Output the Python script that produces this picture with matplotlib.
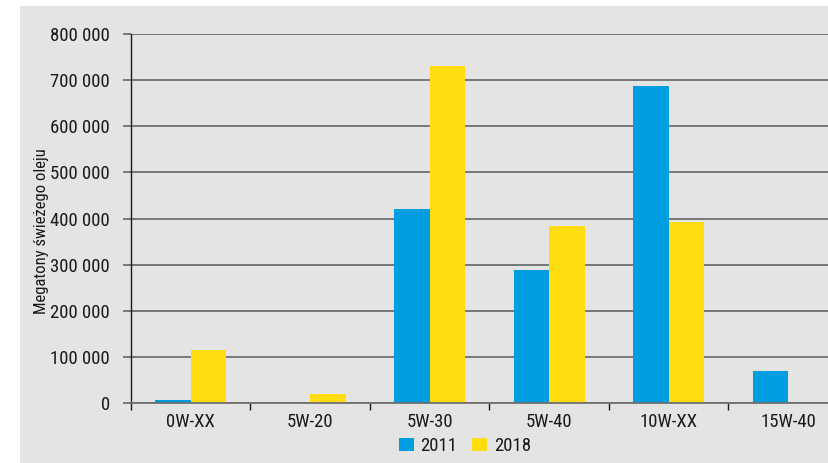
import matplotlib
matplotlib.use("Agg")
import matplotlib.pyplot as plt
from matplotlib import font_manager
from matplotlib.patches import Rectangle
from matplotlib.ticker import FuncFormatter, FixedLocator, MultipleLocator
import numpy as np

categories = ["0W-XX", "5W-20", "5W-30", "5W-40", "10W-XX", "15W-40"]
series_2011 = [7000, 0, 420000, 288000, 688000, 69000]
series_2018 = [115000, 20000, 731000, 384000, 393000, 0]
series_names = ["2011", "2018"]
ylabel = "Megatony świeżego oleju"

# pick a condensed font if one is installed
names = {f.name for f in font_manager.fontManager.ttflist}
cond = [f for f in font_manager.fontManager.ttflist
        if str(f.stretch) in ("condensed", "semi-condensed", "extra-condensed", "75", "87")
        or "Narrow" in f.name or "Condensed" in f.name]
family = None
stretch = "normal"
if "Liberation Sans Narrow" in names:
    family = "Liberation Sans Narrow"
else:
    for pref in ["Roboto Condensed", "Open Sans Condensed", "Roboto", "Open Sans", "DejaVu Sans", "Noto Sans"]:
        hit = [f for f in cond if f.name == pref]
        if hit:
            family = pref
            stretch = "condensed"
            break
if family is None:
    family = "DejaVu Sans"
plt.rcParams['font.family'] = [family, 'DejaVu Sans']
plt.rcParams['font.stretch'] = stretch

W, H = 829, 463
fig = plt.figure(figsize=(W/100, H/100), dpi=100, facecolor="white")
bg = Rectangle((20/W, 0), 1, (H-6)/H, transform=fig.transFigure,
               facecolor="#e3e4e3", edgecolor="none", zorder=-10)
fig.add_artist(bg)

ax = fig.add_axes([131/W, 60/H, 717/W, 369/H])
ax.set_facecolor("none")
ax.set_zorder(5)

blue = "#009ee0"
yellow = "#ffdd0f"
bw = 0.297
x = np.arange(len(categories)) + 0.5
ax.bar(x - bw/2, series_2011, width=bw, color=blue, label=series_names[0], zorder=3)
ax.bar(x + bw/2, series_2018, width=bw, color=yellow, label=series_names[1], zorder=3)

ax.set_xlim(0, len(categories))
ax.set_ylim(0, 800000)
ax.yaxis.set_major_locator(MultipleLocator(100000))
ax.yaxis.set_major_formatter(FuncFormatter(lambda v, p: f"{int(v):,}".replace(",", " ")))
ax.grid(axis="y", color="#6f6f6f", linewidth=1.3, zorder=1)
ax.set_axisbelow(True)

ax.xaxis.set_major_locator(FixedLocator(np.arange(0, len(categories) + 1)))
ax.xaxis.set_major_formatter(FuncFormatter(lambda v, p: ""))
ax.xaxis.set_minor_locator(FixedLocator(x))
ax.set_xticklabels(categories, minor=True)
ax.tick_params(axis="x", which="minor", length=0, pad=7, labelsize=13.5, labelcolor="#1a1a1a")
ax.tick_params(axis="x", which="major", length=5, width=1, color="#1a1a1a", direction="out")
ax.tick_params(axis="y", length=6, width=1.3, color="#6f6f6f", pad=9, labelsize=13.5, labelcolor="#1a1a1a")

for s in ["top", "right"]:
    ax.spines[s].set_visible(False)
ax.spines["left"].set_color("#1a1a1a")
ax.spines["left"].set_linewidth(1)
ax.spines["bottom"].set_color("#6f6f6f")
ax.spines["bottom"].set_linewidth(1.3)
ax.spines["bottom"].set_zorder(4)

fig.text(42/W, 1 - 231/H, ylabel, rotation=90, ha="center", va="center",
         fontsize=12, color="#1a1a1a")

fig.legend(loc="center", bbox_to_anchor=(465/W, 17/H), ncol=2, frameon=False,
           fontsize=13.5, handlelength=0.8, handleheight=0.75, handletextpad=0.35,
           columnspacing=0.8, borderpad=0, labelcolor="#1a1a1a")

fig.savefig("out.png", dpi=100, facecolor="white")
